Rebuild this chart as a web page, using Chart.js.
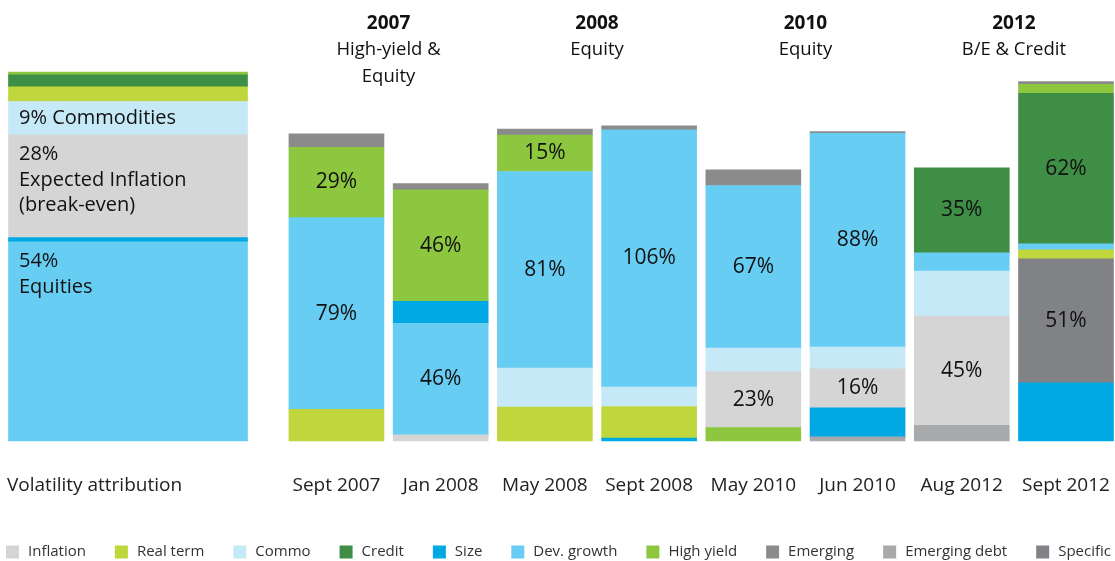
<!DOCTYPE html>
<html><head><meta charset="utf-8">
<script src="https://cdn.jsdelivr.net/npm/chart.js@4.4.0/dist/chart.umd.min.js"></script>
<style>html,body{margin:0;padding:0;background:#fff;}#wrap{width:1115px;height:561px;position:relative;}</style>
</head><body><div id="wrap"><canvas id="c" width="1115" height="561"></canvas></div>
<script>
// ---------- data ----------
const attributionLabel = 'Volatility attribution';
const periods = ['Sept 2007', 'Jan 2008', 'May 2008', 'Sept 2008', 'May 2010', 'Jun 2010', 'Aug 2012', 'Sept 2012'];
const episodeYears = ['2007', '2008', '2010', '2012'];
const episodeDrivers = [['High-yield &', 'Equity'], ['Equity'], ['Equity'], ['B/E & Credit']];

// stacked layers (bottom -> top), % contribution per period
const emergingDebt   = [0, 0, 0, 0, 0, 1.7, 6.5, 0];
const sizeLower      = [0, 0, 0, 1.2, 0, 12, 0, 24];
const highYieldLower = [0, 0, 0, 0, 5.5, 0, 0, 0];
const inflation      = [0, 2.5, 0, 0, 23, 16, 45, 0];
const specific       = [0, 0, 0, 0, 0, 0, 0, 51];
const realTerm       = [13, 0, 14, 13, 0, 0, 0, 3.7];
const commo          = [0, 0, 16, 8, 9.75, 9, 18.5, 0];
const devGrowth      = [79, 46, 81, 106, 67, 88, 7.5, 2.5];
const sizeUpper      = [0, 9, 0, 0, 0, 0, 0, 0];
const credit         = [0, 0, 0, 0, 0, 0, 35, 62];
const highYieldUpper = [29, 46, 15, 0, 0, 0, 0, 3.7];
const emerging       = [5.5, 2.5, 2.5, 1.6, 6.5, 0.8, 0, 1.2];

// volatility attribution bar (bottom -> top), % of total
const attributionSeries = ['Dev. growth', 'Size', 'Inflation', 'Commo', 'Real term', 'Credit', 'High yield'];
const attributionValues = [54, 1.1, 27.9, 9, 4, 3.2, 0.8];
const attributionText = [['54%', 'Equities'], null, ['28%', 'Expected Inflation', '(break-even)'], ['9% Commodities'], null, null, null];

const legendSeries = ['Inflation', 'Real term', 'Commo', 'Credit', 'Size', 'Dev. growth', 'High yield', 'Emerging', 'Emerging debt', 'Specific'];
const legendColors = ['#d4d5d4', '#bfd73c', '#c6e9f8', '#3f8e45', '#00a9e4', '#68cdf3', '#8dc63f', '#8b8b8c', '#a7a9aa', '#818286'];
const labelledSeries = ['Inflation', 'Credit', 'Dev. growth', 'High yield', 'Specific'];
const labelMin = 15;

// ---------- build ----------
const FONT = '"Open Sans", "Noto Sans", sans-serif';
const colorOf = name => legendColors[legendSeries.indexOf(name)];
const layers = [
  ['Emerging debt', emergingDebt], ['Size', sizeLower], ['High yield', highYieldLower],
  ['Inflation', inflation], ['Specific', specific], ['Real term', realTerm], ['Commo', commo],
  ['Dev. growth', devGrowth], ['Size', sizeUpper], ['Credit', credit],
  ['High yield', highYieldUpper], ['Emerging', emerging]
];
const labels = ['', ''].concat(periods);

const datasets = [];
attributionSeries.forEach((name, i) => {
  datasets.push({
    label: name, kind: 'attr', text: attributionText[i],
    data: [attributionValues[i]].concat(periods.map(() => null)).concat([null]),
    backgroundColor: colorOf(name), yAxisID: 'y2', barThickness: 239, borderWidth: 0, clip: false
  });
});
layers.forEach(([name, vals]) => {
  datasets.push({
    label: name, kind: 'main',
    data: [null, null].concat(vals.map(v => v > 0 ? v : null)),
    backgroundColor: colorOf(name), yAxisID: 'y', barThickness: 95, borderWidth: 0, clip: false
  });
});

const TICK_PAD = 33, TICK_SIZE = 19;

const textPlugin = {
  id: 'texts',
  afterDatasetsDraw(chart) {
    const ctx = chart.ctx;
    ctx.save();
    ctx.fillStyle = '#111';
    chart.data.datasets.forEach((ds, di) => {
      const meta = chart.getDatasetMeta(di);
      meta.data.forEach((el, i) => {
        const v = ds.data[i];
        if (v == null) return;
        if (ds.kind === 'main' && labelledSeries.includes(ds.label) && v >= labelMin) {
          ctx.font = '21px ' + FONT;
          ctx.textAlign = 'center'; ctx.textBaseline = 'middle';
          ctx.fillText(Math.round(v) + '%', el.x, (el.y + el.base) / 2);
        }
        if (ds.kind === 'attr' && ds.text) {
          ctx.font = '20px ' + FONT;
          ctx.textAlign = 'left'; ctx.textBaseline = 'middle';
          const h = el.base - el.y;
          const left = el.x - el.width / 2 + 10.5;
          let y = el.y + Math.min(20, h / 2);
          ds.text.forEach(line => { ctx.fillText(line, left, y); y += 25.5; });
        }
      });
    });
    ctx.restore();
  },
  afterDraw(chart) {
    const ctx = chart.ctx, xs = chart.scales.x;
    ctx.save();
    ctx.fillStyle = '#111';
    // episode headers
    episodeYears.forEach((yr, i) => {
      const x = (xs.getPixelForValue(2 + 2 * i) + xs.getPixelForValue(3 + 2 * i)) / 2;
      ctx.textAlign = 'center'; ctx.textBaseline = 'middle';
      ctx.font = 'bold 19px ' + FONT;
      ctx.fillText(yr, x, 24);
      ctx.font = '18.5px ' + FONT;
      episodeDrivers[i].forEach((t, k) => ctx.fillText(t, x, 50 + 26.5 * k));
    });
    // first category label
    ctx.font = TICK_SIZE + 'px ' + FONT;
    ctx.fillStyle = '#222';
    ctx.textAlign = 'left'; ctx.textBaseline = 'middle';
    ctx.fillText(attributionLabel, 7, xs.top + TICK_PAD + TICK_SIZE * 0.6);
    // legend
    ctx.font = '15px ' + FONT;
    const box = 13, gapBox = 9, startX = 6, endX = 1111, cy = 552;
    const widths = legendSeries.map(t => box + gapBox + ctx.measureText(t).width);
    const total = widths.reduce((a, b) => a + b, 0);
    const gap = (endX - startX - total) / (legendSeries.length - 1);
    let x = startX;
    legendSeries.forEach((t, i) => {
      ctx.fillStyle = legendColors[i];
      ctx.fillRect(x, cy - 6.5, box, box);
      ctx.fillStyle = '#333';
      ctx.fillText(t, x + box + gapBox, cy);
      x += widths[i] + gap;
    });
    ctx.restore();
  }
};

new Chart(document.getElementById('c'), {
  type: 'bar',
  data: { labels, datasets },
  options: {
    responsive: false, animation: false, maintainAspectRatio: false,
    layout: { padding: { top: 72, left: 128, right: 49, bottom: 60 } },
    plugins: { legend: { display: false }, tooltip: { enabled: false } },
    scales: {
      x: {
        stacked: true, offset: false,
        grid: { display: false, drawTicks: false }, border: { display: false },
        ticks: { autoSkip: false, maxRotation: 0, padding: TICK_PAD, color: '#222', font: { family: FONT, size: TICK_SIZE } },
        afterFit(s) { s.height = 60; s.paddingLeft = 0; s.paddingRight = 0; }
      },
      y: { display: false, stacked: true, min: 0, max: 152 },
      y2: { display: false, stacked: true, min: 0, max: 100 }
    }
  },
  plugins: [textPlugin]
});
</script></body></html>
